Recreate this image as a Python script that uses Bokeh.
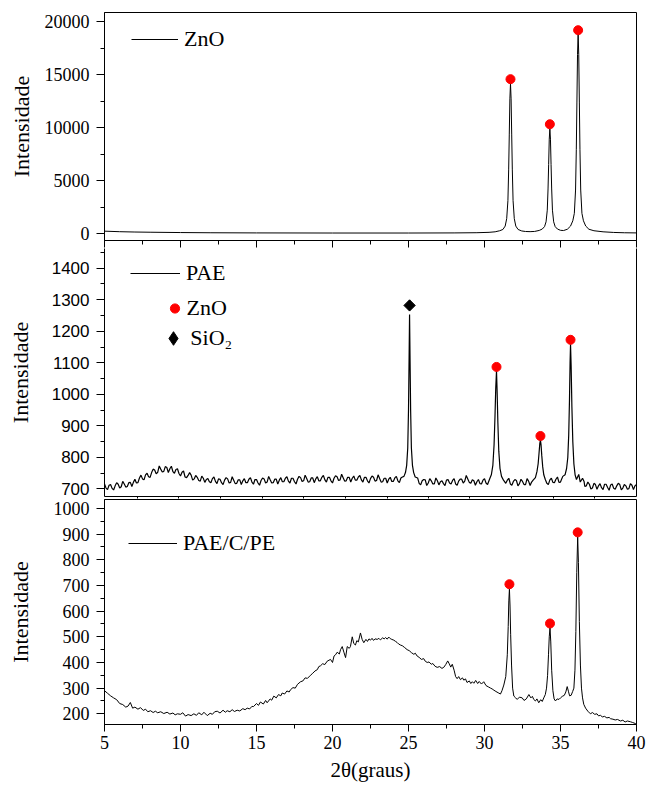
import numpy as np
from bokeh.plotting import figure
from bokeh.layouts import column
from bokeh.models import (Range1d, SingleIntervalTicker, FixedTicker, LinearAxis,
                          Legend, LegendItem)
from bokeh.embed import file_html
from bokeh.resources import INLINE

SERIF = "Liberation Serif"
SANS = "Liberation Sans"

# ---------------- data ----------------
# top panel: ZnO pattern (2theta, intensity)
ZNO_TOP = [(5.0, 220), (6.0, 170), (7.0, 140), (8.0, 120), (10.0, 90), (12.0, 70),
           (15.0, 55), (20.0, 45), (25.0, 45), (28.0, 55), (29.5, 75), (30.3, 110),
           (30.7, 160), (31.0, 260), (31.21, 380), (31.36, 700), (31.46, 1400),
           (31.54, 3100), (31.59, 6000), (31.63, 9300), (31.67, 12700), (31.71, 14150),
           (31.75, 12700), (31.79, 9300), (31.83, 6000), (31.88, 3100), (31.96, 1400),
           (32.06, 700), (32.21, 380), (32.45, 240), (32.7, 190), (33.0, 175),
           (33.3, 195), (33.6, 290), (33.8, 420), (33.95, 650), (34.05, 1100),
           (34.13, 2200), (34.18, 4200), (34.22, 6500), (34.26, 8900), (34.30, 9880),
           (34.34, 8900), (34.38, 6500), (34.42, 4200), (34.47, 2200), (34.55, 1100),
           (34.65, 650), (34.8, 420), (35.0, 300), (35.2, 280), (35.45, 400),
           (35.66, 700), (35.81, 1200), (35.91, 1900), (35.99, 4100), (36.04, 7900),
           (36.08, 12400), (36.12, 16900), (36.16, 18840), (36.20, 16900), (36.24, 12400),
           (36.28, 7900), (36.33, 4100), (36.41, 1900), (36.51, 1200), (36.66, 700),
           (36.87, 400), (37.2, 260), (37.8, 160), (38.5, 100), (39.2, 70), (40.0, 55)]
ZNO_TOP_PEAK_X = [31.71, 34.30, 36.16]
ZNO_TOP_PEAK_Y = [14560, 10310, 19180]

# middle panel: PAE pattern (main readings)
PAE = [(5.0, 716), (5.2, 698), (5.4, 714), (5.6, 697), (5.8, 720), (6.0, 703), (6.2, 724),
       (6.4, 706), (6.6, 720), (6.8, 708), (7.0, 731), (7.2, 720), (7.4, 744), (7.6, 729),
       (7.8, 750), (8.0, 737), (8.2, 763), (8.4, 748), (8.6, 773), (8.8, 754), (9.0, 771),
       (9.2, 752), (9.4, 772), (9.6, 750), (9.8, 764), (10.0, 741), (10.2, 757), (10.4, 736),
       (10.6, 752), (10.8, 728), (11.0, 743), (11.2, 727), (11.4, 741), (11.6, 721),
       (11.8, 733), (12.0, 720), (12.2, 738), (12.4, 717), (12.6, 731), (12.8, 714),
       (13.0, 736), (13.2, 719), (13.4, 739), (13.6, 717), (13.8, 729), (14.0, 714),
       (14.2, 733), (14.4, 720), (14.6, 736), (14.8, 715), (15.0, 730), (15.2, 712),
       (15.4, 735), (15.6, 719), (15.8, 740), (16.0, 719), (16.2, 731), (16.4, 716),
       (16.6, 736), (16.8, 723), (17.0, 739), (17.2, 719), (17.4, 734), (17.6, 716),
       (17.8, 740), (18.0, 724), (18.2, 744), (18.4, 722), (18.6, 735), (18.8, 720),
       (19.0, 739), (19.2, 726), (19.4, 743), (19.6, 722), (19.8, 737), (20.0, 719),
       (20.2, 742), (20.4, 727), (20.6, 747), (20.8, 725), (21.0, 737), (21.2, 722),
       (21.4, 741), (21.6, 728), (21.8, 743), (22.0, 722), (22.2, 737), (22.4, 719),
       (22.6, 741), (22.8, 725), (23.0, 745), (23.2, 722), (23.4, 734), (23.6, 719),
       (23.8, 737), (24.0, 724), (24.2, 740), (24.4, 720), (24.6, 738), (24.7, 740),
       (24.8, 752), (24.88, 775), (24.95, 830), (25.0, 950), (25.04, 1120), (25.07, 1253),
       (25.10, 1120), (25.14, 950), (25.19, 830), (25.26, 775), (25.34, 752), (25.44, 738),
       (25.6, 735), (25.8, 713), (26.0, 730), (26.2, 711), (26.4, 733), (26.6, 716),
       (26.8, 735), (27.0, 713), (27.2, 726), (27.4, 711), (27.6, 730), (27.8, 716),
       (28.0, 733), (28.2, 712), (28.4, 731), (28.6, 719), (28.8, 743), (29.0, 721),
       (29.2, 729), (29.4, 712), (29.6, 730), (29.8, 716), (30.0, 733), (30.2, 714),
       (30.35, 733), (30.45, 745), (30.55, 775), (30.63, 840), (30.69, 930), (30.74, 1020),
       (30.79, 1074), (30.83, 1010), (30.88, 910), (30.94, 820), (31.02, 765), (31.12, 740),
       (31.25, 728), (31.4, 718), (31.6, 734), (31.8, 712), (32.0, 730), (32.2, 710),
       (32.4, 731), (32.6, 714), (32.8, 733), (33.0, 711), (33.2, 728), (33.35, 736),
       (33.45, 755), (33.53, 780), (33.59, 815), (33.64, 845), (33.68, 855), (33.72, 840),
       (33.77, 805), (33.83, 770), (33.9, 745), (34.0, 730), (34.2, 714), (34.4, 734),
       (34.6, 720), (34.8, 738), (35.0, 722), (35.15, 740), (35.3, 745), (35.40, 765),
       (35.48, 800), (35.54, 870), (35.59, 980), (35.63, 1100), (35.66, 1159),
       (35.70, 1090), (35.75, 960), (35.81, 850), (35.88, 780), (35.96, 745), (36.05, 730),
       (36.2, 746), (36.3, 722), (36.45, 734), (36.6, 708), (36.8, 722), (37.0, 700),
       (37.2, 718), (37.4, 699), (37.6, 717), (37.8, 698), (38.0, 715), (38.2, 696),
       (38.4, 716), (38.6, 699), (38.8, 718), (39.0, 697), (39.2, 714), (39.4, 699),
       (39.6, 717), (39.8, 698), (40.0, 714)]
# middle panel: extra readings of the noisy baseline between the main readings
PAE_FINE = [(5.1, 703), (5.3, 712), (5.5, 702), (5.7, 710), (5.9, 715), (6.1, 707),
            (6.3, 716), (6.5, 708), (6.7, 721), (6.9, 721), (7.1, 719), (7.3, 735),
            (7.5, 732), (7.7, 745), (7.9, 739), (8.1, 752), (8.3, 760), (8.5, 753),
            (8.7, 763), (8.9, 756), (9.1, 768), (9.3, 764), (9.5, 755), (9.7, 762),
            (9.9, 749), (10.1, 753), (10.3, 738), (10.5, 743), (10.7, 744), (10.9, 732),
            (11.1, 737), (11.3, 725), (11.5, 734), (11.7, 730), (11.9, 723), (12.1, 733),
            (12.3, 724), (12.5, 732), (12.7, 720), (12.9, 728), (13.1, 732), (13.3, 721),
            (13.5, 728), (13.7, 718), (13.9, 729), (14.1, 726), (14.3, 720), (14.5, 731),
            (14.7, 722), (14.9, 730), (15.1, 719), (15.3, 727), (15.5, 732), (15.7, 722),
            (15.9, 729), (16.1, 720), (16.3, 731), (16.5, 728), (16.7, 723), (16.9, 734),
            (17.1, 725), (17.3, 734), (17.5, 723), (17.7, 731), (17.9, 736), (18.1, 726),
            (18.3, 733), (18.5, 723), (18.7, 735), (18.9, 732), (19.1, 726), (19.3, 737),
            (19.5, 729), (19.7, 737), (19.9, 726), (20.1, 734), (20.3, 739), (20.5, 729),
            (20.7, 736), (20.9, 726), (21.1, 737), (21.3, 734), (21.5, 728), (21.7, 738),
            (21.9, 729), (22.1, 737), (22.3, 726), (22.5, 733), (22.7, 737), (22.9, 727),
            (23.1, 733), (23.3, 723), (23.5, 734), (23.7, 731), (23.9, 724), (24.1, 735),
            (24.3, 726), (24.5, 735), (25.7, 718), (25.9, 726), (26.1, 729), (26.3, 719),
            (26.5, 726), (26.7, 716), (26.9, 726), (27.1, 723), (27.3, 717), (27.5, 728),
            (27.7, 719), (27.9, 727), (28.1, 716), (28.3, 725), (28.5, 731), (28.7, 725),
            (28.9, 732), (29.1, 718), (29.3, 726), (29.5, 723), (29.7, 717), (29.9, 728),
            (30.1, 719), (31.5, 728), (31.7, 716), (31.9, 724), (32.1, 727), (32.3, 717),
            (32.5, 724), (32.7, 714), (32.9, 725), (33.1, 722), (34.1, 718), (34.3, 729),
            (34.5, 721), (34.7, 731), (34.9, 721), (35.08, 732), (36.55, 724), (36.7, 710),
            (36.9, 715), (37.1, 703), (37.3, 714), (37.5, 710), (37.7, 704), (37.9, 715),
            (38.1, 705), (38.3, 713), (38.5, 702), (38.7, 710), (38.9, 714), (39.1, 703),
            (39.3, 710), (39.5, 701), (39.7, 712), (39.9, 710)]
PAE_ZNO_X = [30.79, 33.68, 35.66]
PAE_ZNO_Y = [1087, 868, 1173]
PAE_SIO2_X = [25.07]
PAE_SIO2_Y = [1282]

# bottom panel: PAE/C/PE pattern
PAE_C_PE = [(5.0, 290), (5.2, 280), (5.4, 270), (5.6, 262), (5.8, 255), (6.0, 240), (6.2, 236),
            (6.4, 226), (6.55, 230), (6.7, 244), (6.85, 222), (7.0, 226), (7.2, 218),
            (7.37, 224), (7.55, 213), (7.7, 218), (7.85, 208), (8.03, 212), (8.2, 205),
            (8.35, 210), (8.5, 204), (8.7, 208), (8.9, 201), (9.12, 206), (9.3, 199),
            (9.5, 203), (9.65, 196), (9.8, 200), (10.0, 198), (10.15, 204), (10.33, 191),
            (10.5, 197), (10.7, 193), (10.88, 200), (11.05, 194), (11.2, 204), (11.4, 196),
            (11.54, 206), (11.76, 193), (11.95, 202), (12.1, 198), (12.25, 208), (12.42, 210),
            (12.6, 203), (12.8, 214), (12.95, 206), (13.07, 212), (13.25, 208), (13.4, 216),
            (13.55, 209), (13.73, 214), (13.9, 211), (14.1, 220), (14.25, 216), (14.39, 222),
            (14.55, 219), (14.7, 229), (14.8, 228), (15.0, 240), (15.13, 233), (15.26, 246),
            (15.45, 238), (15.6, 252), (15.7, 243), (15.9, 258), (16.0, 253), (16.14, 269),
            (16.3, 262), (16.45, 275), (16.6, 270), (16.69, 281), (16.85, 277), (17.0, 289),
            (17.15, 285), (17.24, 294), (17.4, 302), (17.55, 300), (17.7, 315), (17.9, 325),
            (18.05, 328), (18.2, 340), (18.35, 338), (18.55, 350), (18.7, 358), (18.85, 367),
            (19.0, 372), (19.1, 384), (19.21, 387), (19.35, 395), (19.5, 392), (19.65, 405),
            (19.87, 412), (20.0, 400), (20.1, 425), (20.2, 430), (20.31, 440), (20.45, 433),
            (20.53, 450), (20.64, 462), (20.75, 440), (20.86, 419), (20.97, 462), (21.1, 455),
            (21.18, 462), (21.3, 500), (21.4, 474), (21.51, 468), (21.6, 485), (21.7, 480),
            (21.84, 515), (21.95, 490), (22.06, 477), (22.2, 490), (22.3, 482), (22.4, 492),
            (22.5, 487), (22.6, 494), (22.7, 486), (22.8, 492), (22.94, 490), (23.05, 494),
            (23.15, 488), (23.3, 496), (23.4, 492), (23.49, 497), (23.6, 491), (23.7, 499),
            (23.8, 493), (23.9, 490), (24.03, 487), (24.15, 482), (24.25, 478), (24.35, 472),
            (24.47, 468), (24.6, 465), (24.75, 458), (24.91, 450), (25.05, 446), (25.2, 438),
            (25.35, 432), (25.45, 436), (25.57, 425), (25.7, 420), (25.85, 412), (26.0, 415),
            (26.1, 405), (26.23, 400), (26.35, 402), (26.5, 393), (26.6, 396), (26.75, 385),
            (26.89, 381), (27.05, 384), (27.2, 377), (27.32, 381), (27.45, 392), (27.58, 406),
            (27.68, 395), (27.78, 382), (27.88, 393), (28.0, 370), (28.1, 345), (28.2, 337),
            (28.3, 345), (28.42, 333), (28.55, 340), (28.64, 331), (28.75, 336), (28.85, 322),
            (29.0, 328), (29.1, 318), (29.2, 325), (29.3, 319), (29.42, 330), (29.55, 318),
            (29.65, 326), (29.8, 316), (29.95, 325), (30.1, 310), (30.25, 305), (30.4, 300),
            (30.5, 297), (30.62, 292), (30.75, 287), (30.9, 282), (31.05, 277), (31.15, 290),
            (31.27, 312), (31.40, 345), (31.50, 430), (31.56, 540), (31.60, 640), (31.64, 687),
            (31.68, 620), (31.72, 510), (31.78, 390), (31.85, 300), (31.93, 269), (32.05, 262),
            (32.15, 256), (32.3, 265), (32.48, 262), (32.6, 252), (32.75, 258), (32.92, 275),
            (33.05, 262), (33.15, 268), (33.24, 256), (33.35, 250), (33.45, 258), (33.57, 243),
            (33.7, 255), (33.8, 248), (33.9, 262), (34.0, 275), (34.08, 300), (34.15, 350),
            (34.21, 430), (34.26, 500), (34.31, 535), (34.36, 480), (34.42, 370), (34.5, 290),
            (34.58, 258), (34.67, 250), (34.78, 258), (34.9, 256), (35.0, 262), (35.12, 268),
            (35.25, 272), (35.35, 285), (35.44, 306), (35.52, 288), (35.6, 270), (35.7, 272),
            (35.8, 287), (35.88, 300), (35.95, 370), (36.01, 520), (36.07, 750), (36.13, 890),
            (36.18, 790), (36.24, 560), (36.31, 390), (36.38, 300), (36.45, 262), (36.53, 237),
            (36.65, 222), (36.8, 210), (36.97, 200), (37.1, 205), (37.25, 198), (37.4, 200),
            (37.5, 192), (37.63, 194), (37.75, 188), (37.9, 190), (38.05, 184), (38.2, 186),
            (38.29, 181), (38.45, 179), (38.6, 176), (38.75, 178), (38.95, 172), (39.1, 175),
            (39.25, 168), (39.4, 172), (39.6, 169), (39.75, 166), (39.93, 162), (40.0, 161)]
PAE_C_PE_ZNO_X = [31.64, 34.31, 36.13]
PAE_C_PE_ZNO_Y = [705, 552, 907]

# tick positions of the middle panel's own bottom axis (unlabelled)
MID_BOTTOM_TICKS = [7.17, 9.87, 12.63, 15.39, 18.09, 20.86, 23.62, 26.32, 29.01, 31.78,
                    34.54, 37.24]

X_RANGE = (5, 40)
W = 648


def xy(pairs):
    pairs = sorted(pairs)
    return [p[0] for p in pairs], [p[1] for p in pairs]


def base_fig(height, yr, top, bottom, xloc, outline=True):
    p = figure(width=W, height=height, x_range=Range1d(*X_RANGE), y_range=Range1d(*yr),
               x_axis_location=xloc, y_axis_location="left",
               toolbar_location=None, output_backend="svg",
               min_border_left=104, min_border_right=12,
               min_border_top=top, min_border_bottom=bottom)
    p.grid.visible = False
    p.outline_line_color = "black" if outline else None
    p.outline_line_alpha = 1.0
    p.outline_line_width = 1
    p.background_fill_color = "white"
    p.border_fill_color = "white"
    return p


def style_y(p, interval, font, size, label_standoff):
    ax = p.yaxis[0]
    ax.ticker = SingleIntervalTicker(interval=interval, num_minor_ticks=2)
    ax.axis_label = "Intensidade"
    ax.axis_label_text_font = SERIF
    ax.axis_label_text_font_size = "22px"
    ax.axis_label_text_font_style = "normal"
    ax.axis_label_text_color = "black"
    ax.axis_label_standoff = label_standoff
    ax.major_label_text_font = font
    ax.major_label_text_font_size = size
    ax.major_label_text_color = "black"
    ax.major_label_standoff = 7
    ax.major_tick_out = 8
    ax.major_tick_in = 0
    ax.minor_tick_out = 4
    ax.minor_tick_in = 0
    ax.axis_line_color = "black"
    ax.major_tick_line_color = "black"
    ax.minor_tick_line_color = "black"


def silent_axis(ax):
    # ticks only: labels are not drawn
    ax.major_label_text_font_size = "1px"
    ax.major_label_text_alpha = 0
    ax.major_label_standoff = 0
    ax.axis_line_color = "black"
    ax.major_tick_line_color = "black"
    ax.minor_tick_line_color = "black"


def make_legend(items, loc, gw, gh, standoff):
    return Legend(items=items, location=loc, glyph_width=gw, glyph_height=gh,
                  label_height=gh, label_standoff=standoff, padding=0, margin=0, spacing=0,
                  border_line_alpha=0, background_fill_alpha=0,
                  label_text_font=SERIF, label_text_font_size="22px",
                  label_text_color="black")


# ---------------- top panel ----------------
p1 = base_fig(248, (-660, 20849), 12, 8, "below")
style_y(p1, 5000, SERIF, "18px", 8)
ax1 = p1.xaxis[0]
ax1.ticker = SingleIntervalTicker(interval=5, num_minor_ticks=2)
ax1.major_tick_out = 7
ax1.major_tick_in = 0
ax1.minor_tick_out = 4
ax1.minor_tick_in = 0
silent_axis(ax1)
x, y = xy(ZNO_TOP)
r1 = p1.line(x, y, line_color="black", line_width=1)
p1.scatter(ZNO_TOP_PEAK_X, ZNO_TOP_PEAK_Y, marker="circle", size=9,
           fill_color="red", line_color="red")
p1.add_layout(make_legend([LegendItem(label="ZnO", renderers=[r1])], (27, 181), 47, 40, 6))

# ---------------- middle panel ----------------
p2 = base_fig(251, (676.2, 1462.5), 0, 3, "below", outline=False)
style_y(p2, 100, SANS, "17px", 16)
bot_ax = p2.xaxis[0]
bot_ax.ticker = FixedTicker(ticks=MID_BOTTOM_TICKS, minor_ticks=[])
bot_ax.major_tick_out = 2
bot_ax.major_tick_in = 0
silent_axis(bot_ax)
right_ax = LinearAxis(ticker=FixedTicker(ticks=[], minor_ticks=[]))
silent_axis(right_ax)
right_ax.major_tick_out = 0
p2.add_layout(right_ax, "right")
x, y = xy(PAE + PAE_FINE)
r2 = p2.line(x, y, line_color="black", line_width=1.2)
zn2 = p2.scatter(PAE_ZNO_X, PAE_ZNO_Y, marker="circle", size=9,
                 fill_color="red", line_color="red")
si_leg = p2.scatter(PAE_SIO2_X, PAE_SIO2_Y, marker="diamond", size=10,
                    fill_color="black", line_color="black")
p2.scatter(PAE_SIO2_X, PAE_SIO2_Y, marker="square", angle=np.pi / 4, size=8,
           fill_color="black", line_color="black")
p2.add_layout(make_legend([LegendItem(label="PAE", renderers=[r2])], (26, 203), 50, 40, 6))
p2.add_layout(make_legend([LegendItem(label="ZnO", renderers=[zn2])], (58.5, 168.3), 23, 40, 1))
p2.add_layout(make_legend([LegendItem(label="SiO₂", renderers=[si_leg])], (52.3, 137.7), 34, 40, -3))

# ---------------- bottom panel ----------------
p3 = base_fig(288, (158.3, 1035.1), 0, 63, "below")
style_y(p3, 100, SERIF, "18px", 18)
ax = p3.xaxis[0]
ax.ticker = SingleIntervalTicker(interval=5, num_minor_ticks=2)
ax.axis_label = "2θ(graus)"
ax.axis_label_text_font = SERIF
ax.axis_label_text_font_size = "21px"
ax.axis_label_text_font_style = "normal"
ax.axis_label_text_color = "black"
ax.axis_label_standoff = 6
ax.major_label_text_font = SERIF
ax.major_label_text_font_size = "18px"
ax.major_label_text_color = "black"
ax.major_label_standoff = 4
ax.major_tick_out = 7
ax.major_tick_in = 0
ax.minor_tick_out = 4
ax.minor_tick_in = 0
ax.axis_line_color = "black"
ax.major_tick_line_color = "black"
ax.minor_tick_line_color = "black"
x, y = xy(PAE_C_PE)
r3 = p3.line(x, y, line_color="black", line_width=1)
p3.scatter(PAE_C_PE_ZNO_X, PAE_C_PE_ZNO_Y, marker="circle", size=9,
           fill_color="red", line_color="red")
p3.add_layout(make_legend([LegendItem(label="PAE/C/PE", renderers=[r3])], (24, 161.3), 49, 40, 6))

layout = column(p1, p2, p3, spacing=0)
open("out.html", "w").write(file_html(layout, INLINE))
